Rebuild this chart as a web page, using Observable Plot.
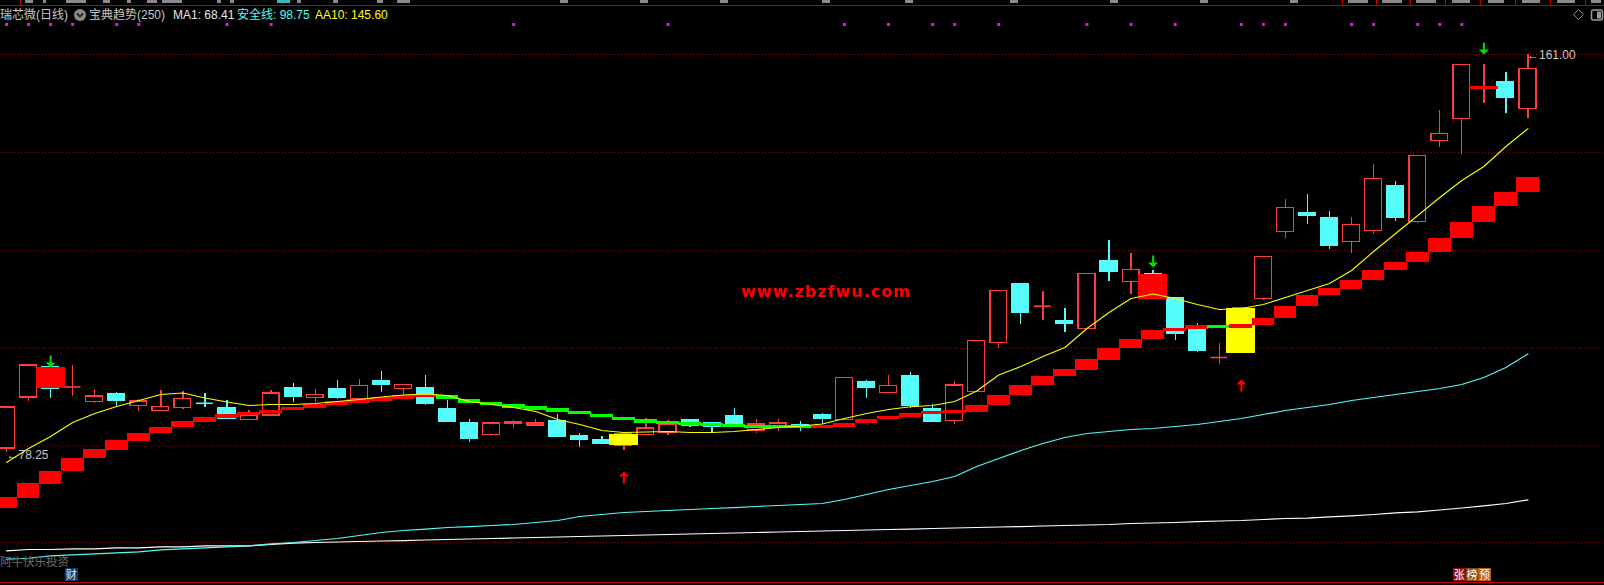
<!DOCTYPE html>
<html>
<head>
<meta charset="utf-8">
<script src="https://cdn.jsdelivr.net/npm/d3@7"></script>
<script src="https://cdn.jsdelivr.net/npm/@observablehq/plot@0.6"></script>
<style>
html,body{margin:0;padding:0;background:#000;overflow:hidden;}
#wrap{position:relative;width:1604px;height:585px;background:#000;overflow:hidden;}
#chart{position:absolute;left:0;top:0;}
#chart svg{display:block;}
.t{position:absolute;white-space:nowrap;font-family:"Liberation Sans","Noto Sans CJK SC",sans-serif;font-size:12px;line-height:14px;}
.hl{position:absolute;left:0;width:1604px;height:1px;background:#c00000;}
.vt{position:absolute;top:0;width:1px;height:5px;background:#c00000;}
.fr{position:absolute;top:0;height:3px;background:#8a8a8a;}
.badge{position:absolute;top:568px;width:12.6px;height:13px;font-family:"Noto Sans CJK SC",sans-serif;font-size:11px;line-height:13px;text-align:center;color:#fff;}
</style>
</head>
<body>
<div id="wrap">
  <div id="chart"></div>
  <div class="fr" style="left:25px;width:8px"></div><div class="fr" style="left:43px;width:3px"></div>
  <div class="fr" style="left:66px;width:20px"></div><div class="fr" style="left:103px;width:7px"></div>
  <div class="fr" style="left:127px;width:4px"></div><div class="fr" style="left:147px;width:10px"></div>
  <div class="fr" style="left:162px;width:20px"></div><div class="fr" style="left:217px;width:4px"></div>
  <div class="fr" style="left:230px;width:4px"></div><div class="fr" style="left:277px;width:13px;background:#3fb8b8"></div>
  <div class="fr" style="left:297px;width:4px"></div><div class="fr" style="left:333px;width:5px"></div>
  <div class="fr" style="left:377px;width:6px"></div><div class="fr" style="left:397px;width:13px"></div>
  <div class="fr" style="left:560px;width:8px"></div><div class="fr" style="left:640px;width:8px"></div>
  <div class="fr" style="left:720px;width:8px"></div><div class="fr" style="left:822px;width:8px"></div>
  <div class="fr" style="left:905px;width:8px"></div><div class="fr" style="left:1010px;width:8px"></div>
  <div class="fr" style="left:1110px;width:8px"></div><div class="fr" style="left:1200px;width:8px"></div>
  <div class="fr" style="left:1290px;width:8px"></div>
  <div class="fr" style="left:1348px;width:20px"></div><div class="fr" style="left:1382px;width:20px"></div>
  <div class="fr" style="left:1416px;width:20px"></div><div class="fr" style="left:1452px;width:18px"></div>
  <div class="fr" style="left:1488px;width:16px"></div><div class="fr" style="left:1522px;width:18px"></div>
  <div class="fr" style="left:1557px;width:18px"></div><div class="fr" style="left:1591px;width:10px"></div>
  <div class="hl" style="top:5px"></div>
  <div class="vt" style="left:20px"></div>
  <div class="vt" style="left:1342px"></div>
  <div class="vt" style="left:1376px"></div>
  <div class="vt" style="left:1410px"></div>
  <div class="vt" style="left:1445px"></div>
  <div class="vt" style="left:1480px"></div>
  <div class="vt" style="left:1515px"></div>
  <div class="vt" style="left:1550px"></div>
  <div class="vt" style="left:1585px"></div>
  <div class="hl" style="top:582px"></div>

  <div class="t" style="left:0px;top:8px;color:#c8c8c8">瑞芯微(日线)</div>
  <svg style="position:absolute;left:74px;top:9px" width="12" height="12" viewBox="0 0 12 12">
    <circle cx="6" cy="6" r="6" fill="#8a8a8a"/>
    <path d="M3 4.5 L6 7.5 L9 4.5" stroke="#222" stroke-width="1.8" fill="none"/>
  </svg>
  <div class="t" style="left:89px;top:8px;color:#c8c8c8">宝典趋势(250)</div>
  <div class="t" style="left:173px;top:8px;color:#e6e6e6">MA1: 68.41</div>
  <div class="t" style="left:237px;top:8px;color:#54fcfc">安全线: 98.75</div>
  <div class="t" style="left:315px;top:8px;color:#ffff00">AA10: 145.60</div>

  <svg style="position:absolute;left:1572px;top:8px" width="32" height="14" viewBox="0 0 32 14">
    <path d="M6.5 1.5 L11.5 6.5 L6.5 11.5 L1.5 6.5 Z" stroke="#8a8a8a" stroke-width="1" fill="none"/>
    <rect x="19.5" y="2" width="11" height="10" rx="2" stroke="#9a9a9a" stroke-width="1.5" fill="none"/>
    <rect x="25" y="3.5" width="4" height="7" fill="#9a9a9a"/>
  </svg>

  <div style="position:absolute;left:826px;top:283px;transform:translateX(-50%);font-family:'DejaVu Sans',sans-serif;font-weight:bold;font-size:16px;letter-spacing:1px;color:#ff0000;white-space:nowrap;line-height:18px">www.zbzfwu.com</div>

  <div class="t" style="left:0px;top:554px;font-size:11.5px;color:#6e6e6e;font-family:'Noto Sans CJK SC',sans-serif">阿牛快乐投资</div>
  <div class="badge" style="left:65px;background:#0c3a6c;color:#d8ecff">财</div>
  <div class="badge" style="left:1453px;background:#8e0f0f">张</div>
  <div class="badge" style="left:1465.6px;background:#8a4a0c">榜</div>
  <div class="badge" style="left:1478.2px;background:#b85c10">预</div>
</div>
<script>
// ---- data (prices, one entry per daily bar) ----
const open = [79.09,89.69,95.93,91.77,88.72,90.32,87.89,86.85,87.55,88.51,
  87.41,84.97,85.95,91.56,89.55,91.36,89.34,93.02,91.42,91.56,
  87.20,84.29,81.86,84.14,83.87,84.70,81.59,80.75,79.71,81.86,
  82.42,84.91,84.29,85.74,82.83,83.66,83.87,85.95,84.97,92.81,
  90.59,94.06,87.20,84.77,90.88,101.07,113.19,108.68,105.64,103.98,
  117.97,113.66,115.27,110.28,104.25,98.01,98.90,110.21,124.14,127.95,
  126.91,122.06,124.35,133.56,126.22,143.06,147.55,153.93,155.18,149.63];
const high = [87.61,96.35,95.93,96.35,91.36,90.73,89.28,91.15,90.94,90.53,
  89.07,86.99,91.15,92.60,91.36,93.23,93.44,95.10,92.33,94.27,
  89.07,85.12,84.50,84.91,85.12,86.16,82.21,81.59,82.00,85.33,
  84.91,84.91,84.50,87.41,85.12,85.12,84.70,86.37,93.85,93.23,
  94.27,94.89,88.24,93.02,101.54,111.94,113.19,111.73,108.20,115.47,
  122.33,119.63,116.10,110.28,105.08,100.92,108.20,119.01,130.86,131.90,
  128.36,127.12,138.13,134.60,140.01,149.36,158.92,158.86,157.26,161.00];
const low = [78.25,88.86,89.49,89.90,88.45,87.82,86.85,86.78,87.20,87.68,
  85.12,84.91,85.74,88.72,88.72,89.28,89.28,90.80,89.28,88.03,
  84.70,80.40,81.59,83.31,83.66,81.59,79.30,80.13,78.67,81.79,
  81.79,83.46,82.42,84.08,82.21,82.63,82.63,84.08,84.91,89.55,
  90.53,87.47,84.50,84.14,90.88,99.94,104.93,105.76,103.27,103.98,
  113.87,111.17,110.13,101.61,99.05,96.62,98.90,109.86,122.81,125.72,
  120.46,119.69,123.64,126.35,125.93,141.61,140.28,150.88,148.80,147.76];
const close = [87.61,96.35,91.56,91.87,89.90,89.07,88.86,87.76,89.42,88.49,
  85.33,85.95,90.53,89.76,90.26,89.55,92.13,92.40,92.33,88.30,
  84.70,81.17,84.29,84.50,84.29,81.59,80.96,80.13,82.00,83.25,
  84.08,83.87,83.52,84.08,84.08,84.29,83.66,85.33,93.79,91.77,
  92.13,88.03,84.70,92.19,101.48,111.88,107.22,108.68,105.02,115.41,
  115.74,116.24,110.13,102.85,99.46,98.01,108.20,118.95,129.13,127.53,
  121.29,125.60,135.16,127.12,139.94,144.52,158.86,154.03,151.92,158.03];

// 宝典趋势 staircase level (value before first bar, then one per bar)
const trendStart = 66.62;
const trend = [68.90,71.81,74.31,77.01,78.88,80.75,82.21,83.46,84.70,85.47,
  86.16,86.37,86.99,87.61,88.24,88.65,89.07,89.49,89.90,90.11,
  89.28,88.65,88.09,87.61,87.20,86.78,86.16,85.54,84.91,84.50,
  84.29,84.08,83.87,83.66,83.60,83.54,83.46,83.66,84.29,85.12,
  85.74,86.37,86.47,86.78,88.03,90.11,92.19,94.06,95.51,97.59,
  99.88,101.75,103.42,104.04,104.45,104.25,104.66,106.12,108.61,110.90,
  112.35,114.02,116.10,117.76,119.84,122.75,126.08,129.40,132.31,135.43];

// AA10 (yellow)
const aa10 = [76.18,79.09,81.59,84.50,86.37,87.82,89.07,90.32,90.63,89.59,
  88.76,88.03,88.24,88.24,88.45,88.86,89.28,89.80,90.21,90.42,
  90.11,88.86,88.24,87.61,86.78,85.12,84.08,82.83,82.42,82.52,
  82.63,82.42,82.42,82.63,83.04,83.46,83.77,84.18,85.33,86.37,
  87.20,87.76,88.03,88.86,91.05,94.37,96.14,98.22,100.09,104.04,
  107.37,110.28,111.21,110.28,109.03,107.99,108.20,109.03,110.48,111.94,
  113.39,116.10,120.05,123.79,127.53,131.27,134.81,137.72,141.88,145.60];

// 安全线 (cyan)
const safeLine = [56.08,56.28,56.78,56.99,57.20,57.41,57.61,58.03,58.24,58.45,
  58.65,58.86,59.28,59.55,59.96,60.38,61.00,61.63,62.04,62.35,
  62.67,62.87,63.08,63.29,63.71,64.12,64.95,65.37,65.79,65.99,
  66.20,66.41,66.62,66.82,67.03,67.24,67.45,67.66,68.49,69.53,
  70.57,71.40,72.23,73.27,75.35,77.01,78.67,80.13,81.38,82.21,
  82.63,83.04,83.25,83.66,84.08,84.70,85.33,86.16,86.99,87.61,
  88.24,89.07,89.69,90.32,90.94,91.56,92.40,93.85,95.93,98.75];

// MA1 (white)
const ma1 = [57.82,58.09,58.09,58.24,58.24,58.45,58.45,58.65,58.65,58.86,
  58.86,58.86,59.13,59.40,59.55,59.65,59.76,59.86,59.96,60.07,
  60.17,60.28,60.38,60.48,60.59,60.69,60.80,60.90,61.00,61.11,
  61.21,61.32,61.42,61.52,61.63,61.73,61.84,61.94,62.04,62.15,
  62.25,62.35,62.46,62.56,62.67,62.77,62.87,62.98,63.08,63.19,
  63.29,63.50,63.60,63.71,63.91,64.02,64.12,64.33,64.54,64.60,
  64.89,65.10,65.37,65.72,65.93,66.31,66.72,67.18,67.66,68.41];

// signals: bar index, type, arrow level
const signalBars = [2, 28, 52, 56, 67];
const signalType = ["sell", "buy", "sell", "buy", "sell"];
const arrowLevel = [97.18, 73.06, 117.97, 92.19, 162.25];

// magenta markers on top row (bar indices)
const markerBars = [0,1,2,3,5,6,10,12,23,30,38,40,42,43,45,49,51,53,56,57,58,61,62,64,65,66];

// dotted grid levels
const gridLevels = [161.0, 140.6, 120.2, 100.0, 79.6, 59.5];

// ---- build ----
const RED = "#ff3c3c", CYAN = "#54fcfc";
const HW = 0.38;
const bars = d3.range(close.length).map(i => ({i, o: open[i], h: high[i], l: low[i], c: close[i], up: close[i] >= open[i]}));
const body = bars.filter(d => Math.abs(d.o - d.c) >= 0.2);
const doji = bars.filter(d => Math.abs(d.o - d.c) < 0.2);

function span(a, b, minH, pad) {
  let lo = Math.min(a, b) - pad, hi = Math.max(a, b) + pad;
  if (hi - lo < minH) { const m = (hi + lo) / 2; lo = m - minH / 2; hi = m + minH / 2; }
  return [lo, hi];
}
const stairs = trend.map((v, i) => {
  const p = i ? trend[i - 1] : trendStart;
  const [lo, hi] = span(p, v, 0.65, 0.1);
  return {i, lo, hi, color: v >= p ? "#ff0000" : "#00ff00"};
});
const signals = signalBars.map((b, k) => {
  const [lo, hi] = span(open[b], close[b], 0.55, 0);
  return {i: b, type: signalType[k], lo, hi, lvl: arrowLevel[k]};
});
const series = arr => arr.map((v, i) => ({i, v}));

const downArrow = {draw(ctx) {
  ctx.moveTo(-1, -6); ctx.lineTo(1, -6); ctx.lineTo(1, 1); ctx.lineTo(5, 1);
  ctx.lineTo(0, 6); ctx.lineTo(-5, 1); ctx.lineTo(-1, 1); ctx.closePath();
}};
const upArrow = {draw(ctx) {
  ctx.moveTo(-1, 6); ctx.lineTo(1, 6); ctx.lineTo(1, -1); ctx.lineTo(5, -1);
  ctx.lineTo(0, -6); ctx.lineTo(-5, -1); ctx.lineTo(-1, -1); ctx.closePath();
}};

const hiIdx = d3.maxIndex(high), loIdx = d3.minIndex(low);

const chart = Plot.plot({
  width: 1604, height: 585,
  marginTop: 0, marginRight: 0, marginBottom: 0, marginLeft: 0,
  style: {background: "#000000", overflow: "visible"},
  x: {type: "linear", domain: [-0.272, 72.47], axis: null},
  y: {type: "linear", domain: [50.61, 172.23], axis: null},
  marks: [
    Plot.ruleY(gridLevels, {stroke: "#b40000", strokeDasharray: "1 2", strokeWidth: 1}),
    Plot.line(series(ma1), {x: "i", y: "v", stroke: "#ffffff", strokeWidth: 1.2}),
    Plot.line(series(safeLine), {x: "i", y: "v", stroke: CYAN, strokeWidth: 1.2}),
    Plot.ruleX(bars, {x: "i", y1: "l", y2: "h", stroke: d => d.up ? RED : CYAN, strokeWidth: 1.3, shapeRendering: "crispEdges"}),
    Plot.rect(body, {x1: d => d.i - HW, x2: d => d.i + HW, y1: "o", y2: "c",
      fill: d => d.up ? "#000000" : CYAN, stroke: d => d.up ? RED : CYAN, strokeWidth: 1.3, shapeRendering: "crispEdges"}),
    Plot.ruleY(doji, {y: "c", x1: d => d.i - HW, x2: d => d.i + HW, stroke: d => d.up ? RED : CYAN, strokeWidth: 1.6}),
    Plot.rect(signals, {x1: d => d.i - 0.66, x2: d => d.i + 0.66, y1: "lo", y2: "hi",
      fill: d => d.type === "sell" ? "#ff0000" : "#ffff00", shapeRendering: "crispEdges"}),
    Plot.rect(stairs, {x1: d => d.i - 0.515, x2: d => d.i + 0.515, y1: "lo", y2: "hi", fill: "color", shapeRendering: "crispEdges"}),
    Plot.line(series(aa10), {x: "i", y: "v", stroke: "#ffff00", strokeWidth: 1.1}),
    Plot.dot(signals.filter(d => d.type === "sell"), {x: "i", y: "lvl", symbol: downArrow, fill: "#00dd00"}),
    Plot.dot(signals.filter(d => d.type === "buy"), {x: "i", y: "lvl", symbol: upArrow, fill: "#ff0000"}),
    Plot.dot(markerBars, {x: d => d, frameAnchor: "top", dy: 24, symbol: "square", r: 1.7, fill: "#ff00ff"}),
    Plot.text([{i: hiIdx, v: high[hiIdx]}], {x: "i", y: "v", text: d => "\u2190" + d.v.toFixed(2),
      textAnchor: "start", dx: -1, dy: 1, fill: "#c8c8c8", fontSize: 12, fontFamily: "Liberation Sans"}),
    Plot.text([{i: loIdx, v: low[loIdx]}], {x: "i", y: "v", text: d => "\u2190" + d.v.toFixed(2),
      textAnchor: "start", dx: 0, dy: 3, fill: "#c8c8c8", fontSize: 12, fontFamily: "Liberation Sans"})
  ]
});
document.getElementById("chart").appendChild(chart);
</script>
</body>
</html>
